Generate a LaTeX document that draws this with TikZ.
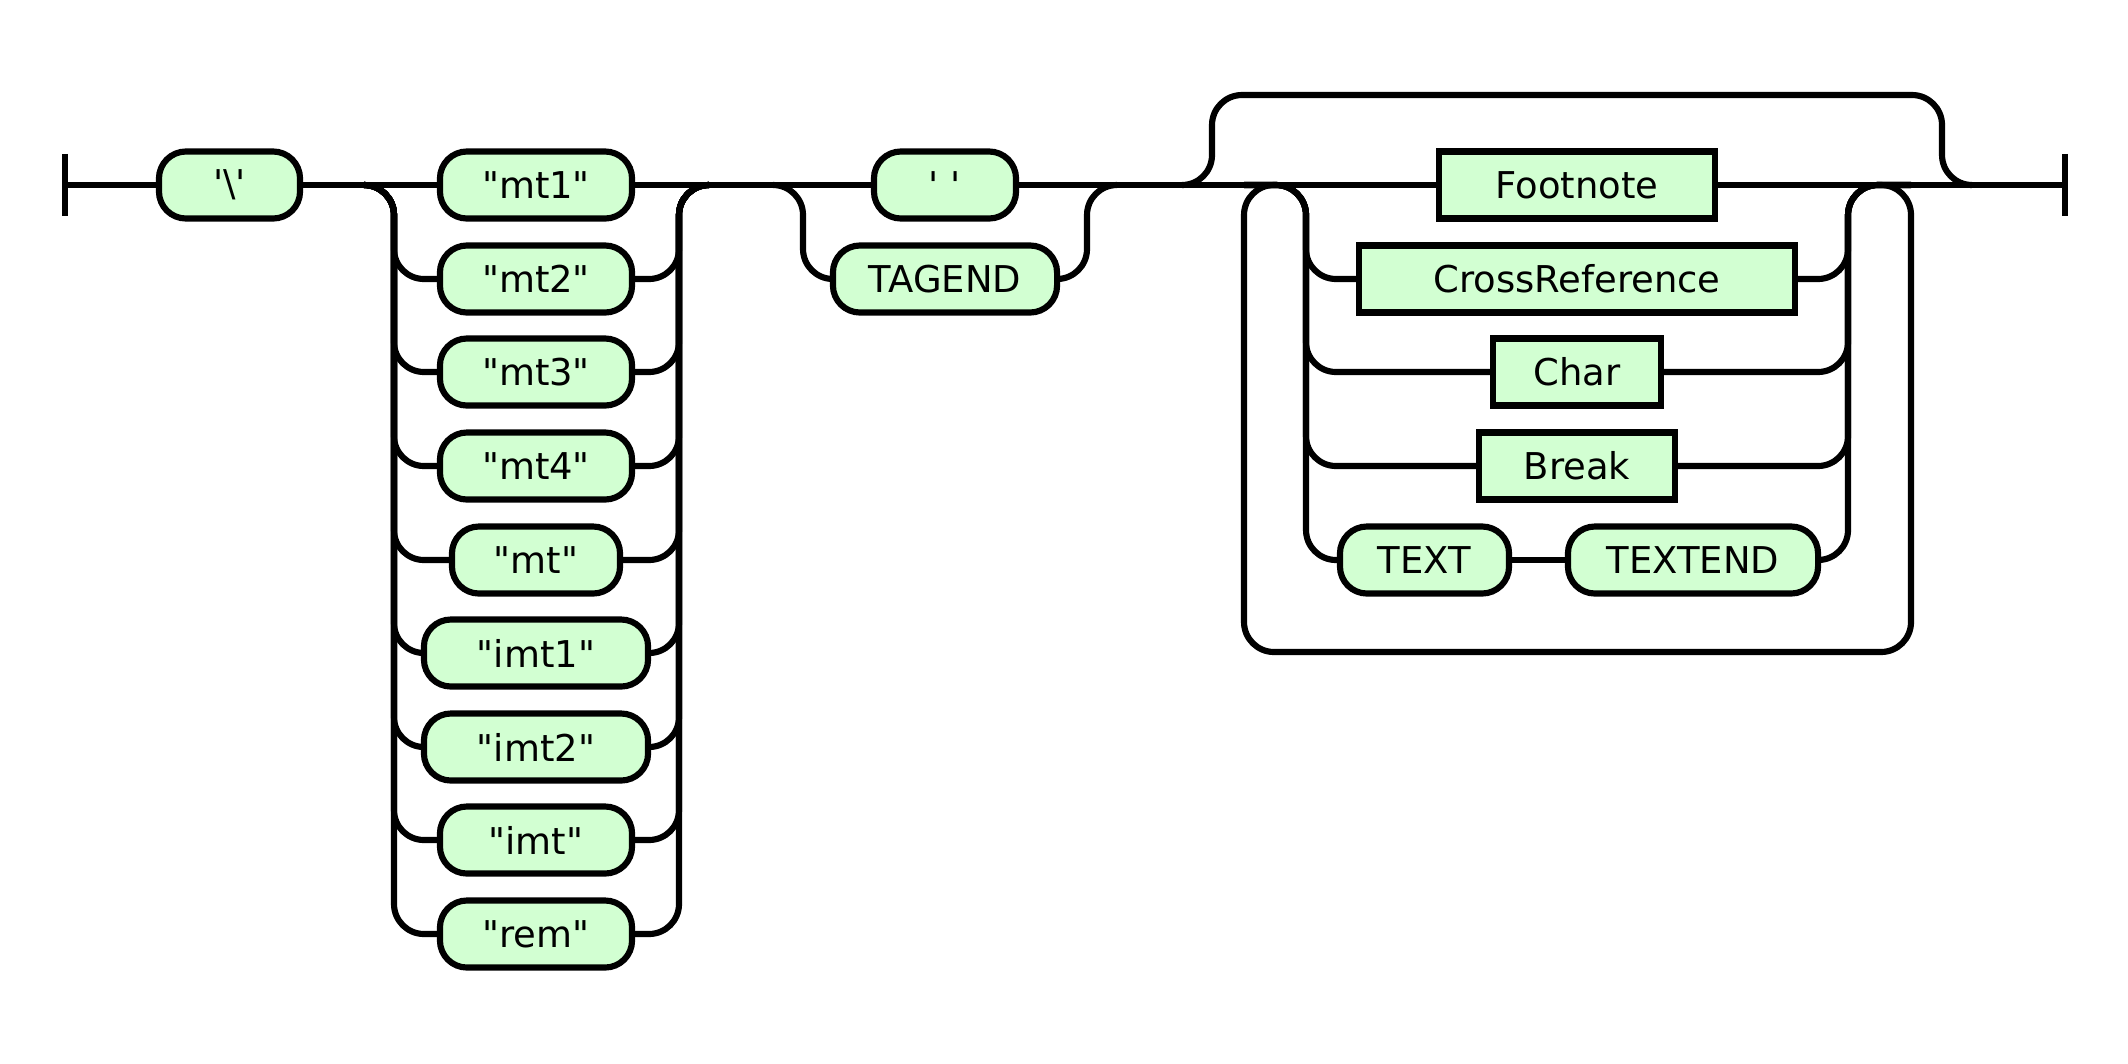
\documentclass[tikz,border=0pt]{standalone}
\usepackage{fontspec}
\newfontfamily\railfont{DejaVu Sans}
\usetikzlibrary{positioning}
\definecolor{railfill}{RGB}{210,255,210}

\begin{document}
\begin{tikzpicture}[
  x=0.01cm, y=-0.01cm,
  line width=1.75pt,
  font=\railfont\fontsize{10.5}{12}\selectfont,
  term/.style={draw, fill=railfill, rounded corners=0.27cm, minimum height=0.67cm, inner sep=0pt},
  nterm/.style={draw, fill=railfill, minimum height=0.67cm, inner sep=0pt},
  rail/.style={rounded corners=0.3cm}
]
\useasboundingbox (0,0) rectangle (2128,1063);
% first part
\node[term, minimum width=1.41cm] (bs) at (229.5,185) {'\textbackslash'};
\node[term, minimum width=1.92cm] (mt1) at (536,185) {"mt1"};
\node[term, minimum width=1.92cm] (mt2) at (536,279) {"mt2"};
\node[term, minimum width=1.92cm] (mt3) at (536,372) {"mt3"};
\node[term, minimum width=1.92cm] (mt4) at (536,466) {"mt4"};
\node[term, minimum width=1.68cm] (mt) at (536,560) {"mt"};
\node[term, minimum width=2.24cm] (imt1) at (536,653) {"imt1"};
\node[term, minimum width=2.24cm] (imt2) at (536,747) {"imt2"};
\node[term, minimum width=1.92cm] (imt) at (536,840) {"imt"};
\node[term, minimum width=1.92cm] (rem) at (536,934) {"rem"};
\node[term, minimum width=1.42cm] (sq) at (945,185) {' '};
\node[term, minimum width=2.24cm] (tagend) at (945,279) {TAGEND};
% repeated part
\node[nterm, minimum width=2.76cm] (fn) at (1577,185) {Footnote};
\node[nterm, minimum width=4.36cm] (xref) at (1577,279) {CrossReference};
\node[nterm, minimum width=1.68cm] (chr) at (1577,372) {Char};
\node[nterm, minimum width=1.96cm] (brk) at (1577,466) {Break};
\node[term, minimum width=1.69cm] (txt) at (1424.5,560) {TEXT};
\node[term, minimum width=2.50cm] (txtend) at (1693,560) {TEXTEND};
% junctions
\coordinate (start) at (65,185);
\coordinate (end) at (2065,185);
\coordinate (mtL) at (394,185);
\coordinate (mtR) at (679,185);
\coordinate (tgL) at (803,185);
\coordinate (tgR) at (1087,185);
\coordinate (skipL) at (1212,95);
\coordinate (skipR) at (1942,95);
\coordinate (loopL) at (1244,185);
\coordinate (chL) at (1306,185);
\coordinate (chR) at (1848,185);
\coordinate (loopR) at (1911,185);
\coordinate (loopBL) at (1244,652);
\coordinate (loopBR) at (1911,652);
\foreach \c in {start, end}{\draw ([yshift=0.31cm]\c) -- ([yshift=-0.31cm]\c);}
\foreach \a/\b in {start/bs.west, bs.east/mt1.west, mt1.east/sq.west, sq.east/fn.west, fn.east/end, txt.east/txtend.west}{\draw (\a) -- (\b);}
\foreach \n in {mt2, mt3, mt4, mt, imt1, imt2, imt, rem}{
  \draw[rail] ([xshift=-0.3cm]mtL) -- (mtL) |- (\n.west);
  \draw[rail] (\n.east) -| (mtR) -- ([xshift=0.3cm]mtR);
}
\draw[rail] ([xshift=-0.3cm]tgL) -- (tgL) |- (tagend.west);
\draw[rail] (tagend.east) -| (tgR) -- ([xshift=0.3cm]tgR);
\draw[rail] ([xshift=-0.3cm]skipL |- start) -| (skipL) -- (skipR) |- ([xshift=0.3cm]skipR |- end);
\draw[rail] (txtend.east) -| (chR) -- (loopR) -- (loopBR) -- (loopBL) -- (loopL) -- (chL) |- (txt.west);
\foreach \n in {xref, chr, brk}{
  \draw[rail] (loopL) -- (chL) |- (\n.west);
  \draw[rail] (\n.east) -| (chR) -- (loopR);
}
\end{tikzpicture}
\end{document}
